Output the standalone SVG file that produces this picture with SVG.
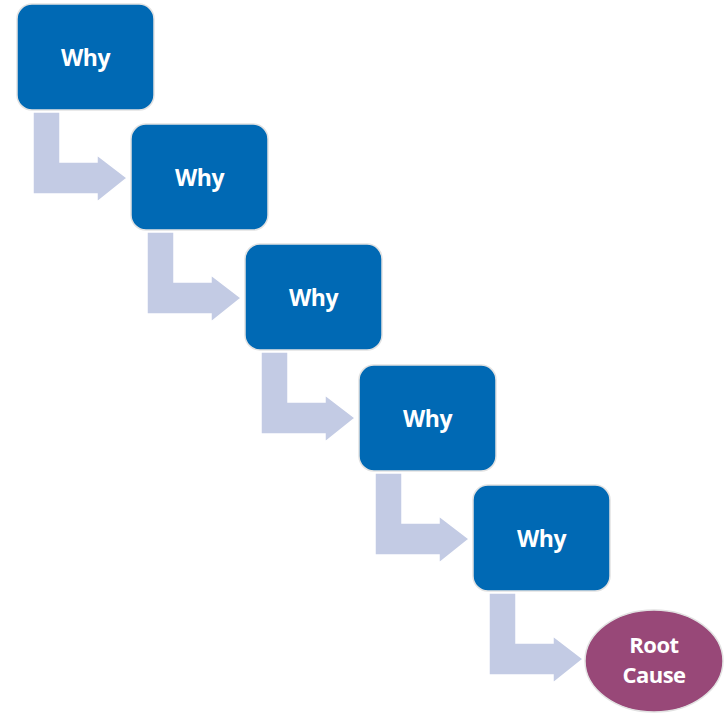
<svg xmlns="http://www.w3.org/2000/svg" width="725" height="714" viewBox="0 0 725 714">
<defs>
<style>
.box{fill:#0069B4;stroke:#e2e2e2;stroke-width:1.5}
.arr{fill:#C3CBE4;stroke:#ffffff;stroke-width:1.5}
.lbl{font-family:"Open Sans","Noto Sans",sans-serif;font-weight:bold;fill:#ffffff;text-anchor:middle;letter-spacing:-0.5px}
</style>
<path id="a" class="arr" d="M16,108 H43 V158 H80 V151 L110,174 L80,198 V190 H16 Z"/>
</defs>
<rect width="725" height="714" fill="#ffffff"/>
<g id="connectors">
<use href="#a" x="17" y="4"/>
<use href="#a" x="131" y="124"/>
<use href="#a" x="245" y="244"/>
<use href="#a" x="359" y="365"/>
<use href="#a" x="473" y="485"/>
</g>
<g id="why1"><rect class="box" x="17" y="4" width="137" height="106" rx="15"/><text class="lbl" x="85.5" y="66" font-size="23">Why</text></g>
<g id="why2"><rect class="box" x="131" y="124" width="137" height="106" rx="15"/><text class="lbl" x="199.5" y="186" font-size="23">Why</text></g>
<g id="why3"><rect class="box" x="245" y="244" width="137" height="106" rx="15"/><text class="lbl" x="313.5" y="306" font-size="23">Why</text></g>
<g id="why4"><rect class="box" x="359" y="365" width="137" height="106" rx="15"/><text class="lbl" x="427.5" y="427" font-size="23">Why</text></g>
<g id="why5"><rect class="box" x="473" y="485" width="137" height="106" rx="15"/><text class="lbl" x="541.5" y="547" font-size="23">Why</text></g>
<g id="root"><ellipse cx="654" cy="661" rx="69" ry="51" fill="#984878" stroke="#e2e2e2" stroke-width="1.5"/><text class="lbl" x="654" y="653" font-size="22">Root</text><text class="lbl" x="654" y="683" font-size="22">Cause</text></g>
</svg>
